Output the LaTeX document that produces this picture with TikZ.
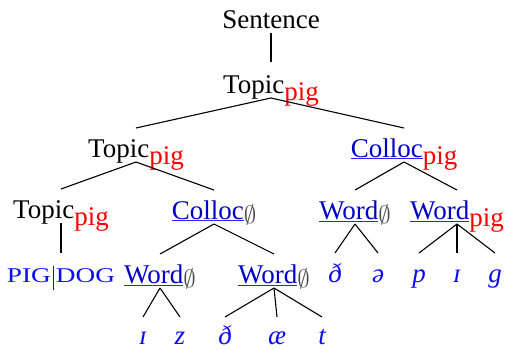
\documentclass[tikz,border=0pt]{standalone}
\usepackage{fontspec}
\setmainfont{Liberation Serif}
\newfontfamily\scfont[FakeStretch=1.3]{Liberation Serif}
\definecolor{dblue}{rgb}{0,0,0.78}
\definecolor{ublue}{rgb}{0.15,0.15,1}
\definecolor{tblue}{rgb}{0.05,0.05,0.95}
\definecolor{nilgray}{rgb}{0.3,0.3,0.3}
\newcommand\subpig{\raisebox{-7pt}{\textcolor{red}{pig}}}
\newcommand\subnil{\raisebox{-4pt}{\fontsize{25}{30}\selectfont\textcolor{nilgray}{$\emptyset$}}}
\newcommand\ulab[1]{\textcolor{ublue}{\underline{\textcolor{dblue}{#1}}}}
\newcommand\ipa[1]{\textcolor{tblue}{\itshape #1}}
\begin{document}
\begin{tikzpicture}[x=1pt,y=-1pt,
  every node/.style={inner sep=0pt,anchor=base,font=\fontsize{27}{32}\selectfont},
  br/.style={draw=black,line width=1.1pt}]
\useasboundingbox (0,0) rectangle (508,349);
% labels
\node (S) at (271,28) {Sentence};
\node (T1) at (271,93) {Topic\subpig};
\node (T2) at (136,157) {Topic\subpig};
\node (C1) at (404,157) {\ulab{Colloc}\subpig};
\node (T3) at (61,218) {Topic\subpig};
\node (C2) at (214,219) {\ulab{Colloc}\subnil};
\node (W1) at (355,219) {\ulab{Word}\subnil};
\node (W2) at (457,219) {\ulab{Word}\subpig};
\node (PD) at (61,282) {\scfont\fontsize{21}{26}\selectfont\textcolor{tblue}{PIG\hspace{2pt}\rule[-8pt]{1pt}{24pt}\hspace{2pt}DOG}};
\node (W3) at (160,283) {\ulab{Word}\subnil};
\node (W4) at (274,283) {\ulab{Word}\subnil};
% terminals level 3
\node (a1) at (335,282) {\ipa{ð}};
\node (a2) at (378,282) {\ipa{ə}};
\node (b1) at (419,282) {\ipa{p}};
\node (b2) at (457,282) {\ipa{ɪ}};
\node (b3) at (495,282) {\ipa{g}};
% terminals level 5
\node (c1) at (143,344) {\ipa{ɪ}};
\node (c2) at (180,344) {\ipa{z}};
\node (d1) at (225,344) {\ipa{ð}};
\node (d2) at (277,344) {\ipa{æ}};
\node (d3) at (322,344) {\ipa{t}};
% branches
\draw[br] ([yshift=-5pt]S.base) -- ([yshift=31pt]T1.base);
\foreach \p/\c in {T1/T2,T1/C1,T2/T3,T2/C2,C1/W1,C1/W2,T3/PD,C2/W3,C2/W4,W1/a1,W1/a2,W2/b1,W2/b2,W2/b3}
  \draw[br] ([yshift=-5pt]\p.base) -- ([yshift=29pt]\c.base);
\foreach \p/\c in {W3/c1,W3/c2,W4/d1,W4/d2,W4/d3}
  \draw[br] ([yshift=-5pt]\p.base) -- ([yshift=27pt]\c.base);
\end{tikzpicture}
\end{document}
